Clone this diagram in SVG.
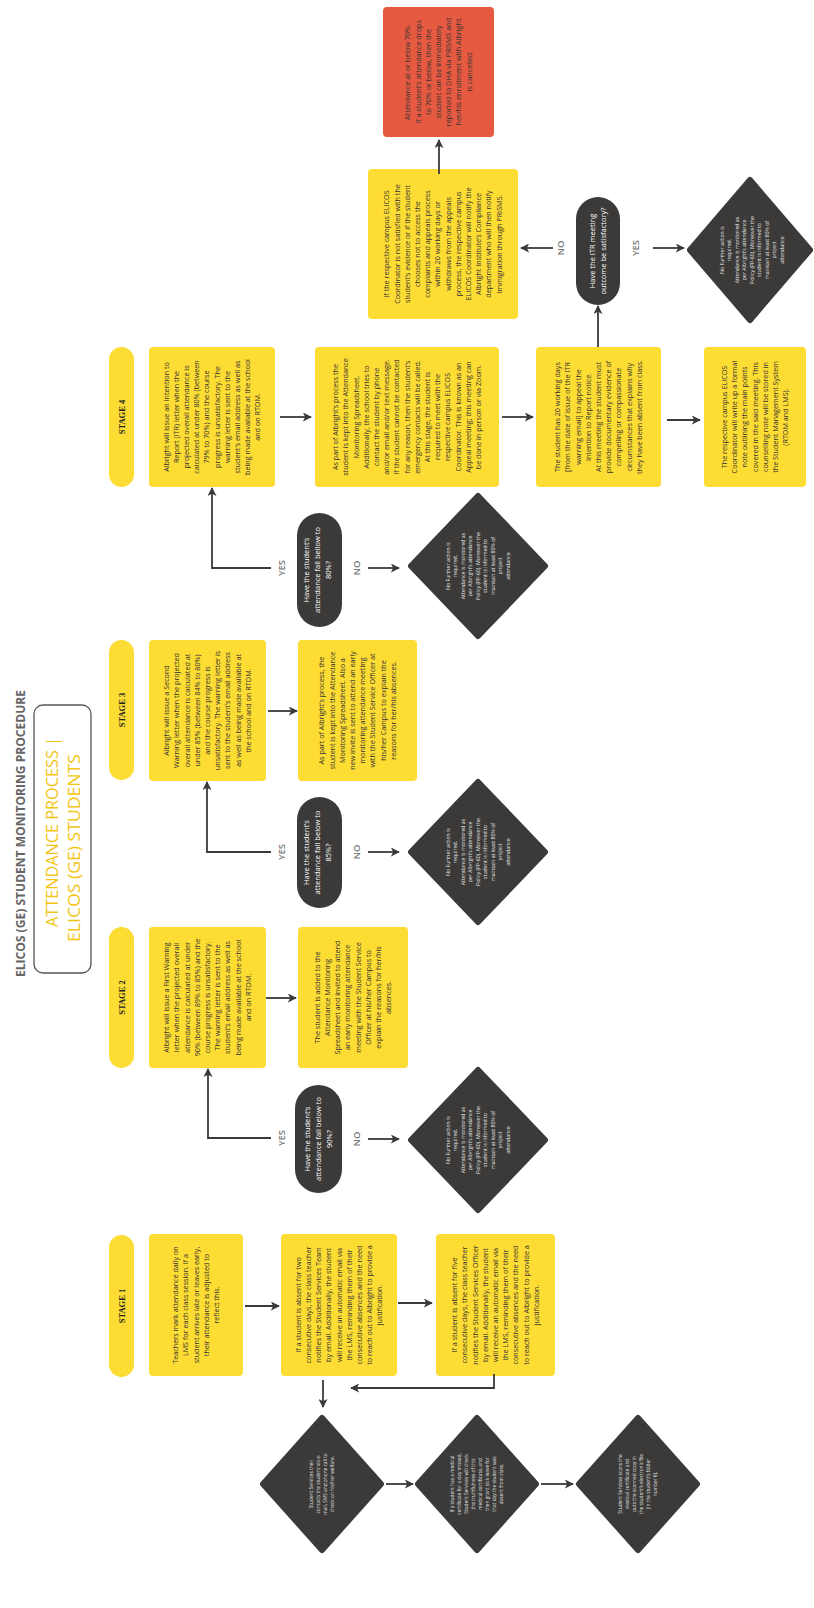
<svg xmlns="http://www.w3.org/2000/svg" width="814" height="1608" viewBox="0 0 814 1608">
<style>
.box{fill:#FDDC33}
.red{fill:#E55A41}
.pill{fill:#3C3A39}
.dk{fill:#3C3A39;stroke:#3C3A39;stroke-width:6;stroke-linejoin:round}
.t{font-family:"Open Sans","Liberation Sans",sans-serif;font-size:7.2px;fill:#333;text-anchor:middle}
.tw{font-family:"Open Sans","Liberation Sans",sans-serif;font-size:7.5px;fill:#fff;text-anchor:middle}
.td{font-family:"Open Sans","Liberation Sans",sans-serif;font-size:5.2px;fill:#e6e6e6;text-anchor:middle}
.ts{font-family:"Open Sans","Liberation Sans",sans-serif;font-size:4.8px;fill:#e6e6e6;text-anchor:middle}
.st{font-family:"Liberation Serif",serif;font-weight:bold;font-size:8.5px;fill:#222;text-anchor:middle}
.lbl{font-family:"Open Sans","Liberation Sans",sans-serif;font-weight:600;font-size:9.5px;fill:#777;text-anchor:middle}
.c{fill:none;stroke:#3a3a3a;stroke-width:1.8}
</style>
<defs>
<marker id="ah" viewBox="0 0 10 10" refX="9" refY="5" markerWidth="9" markerHeight="9" markerUnits="userSpaceOnUse" orient="auto"><path d="M0,0 L10,5 L0,10 L2.5,5 z" fill="#3a3a3a"/></marker>
</defs>
<rect width="814" height="1608" fill="#fff"/>
<g transform="translate(0,1608) rotate(-90)">

<g id="title">
<text x="774.5" y="25.4" font-family="'Open Sans','Liberation Sans',sans-serif" font-weight="bold" font-size="12.5" fill="#666" text-anchor="middle" textLength="287" lengthAdjust="spacingAndGlyphs">ELICOS (GE) STUDENT MONITORING PROCEDURE</text>
<rect x="635" y="34" width="268" height="57" rx="9" fill="#fff" stroke="#555" stroke-width="1.3"/>
<text x="776" y="58" font-family="'Open Sans','Liberation Sans',sans-serif" font-size="17" fill="#F3C414" text-anchor="middle" textLength="190" lengthAdjust="spacingAndGlyphs">ATTENDANCE PROCESS |</text>
<text x="760" y="80" font-family="'Open Sans','Liberation Sans',sans-serif" font-size="17" fill="#F3C414" text-anchor="middle" textLength="188" lengthAdjust="spacingAndGlyphs">ELICOS (GE) STUDENTS</text>
</g>

<g id="stage1-label"><rect x="231" y="109" width="142" height="25" rx="12.5" class="box"/><text class="st" x="302" y="124.5">STAGE 1</text></g>
<g id="stage2-label"><rect x="540" y="109" width="141" height="25" rx="12.5" class="box"/><text class="st" x="610.5" y="124.5">STAGE 2</text></g>
<g id="stage3-label"><rect x="828" y="109" width="140" height="25" rx="12.5" class="box"/><text class="st" x="898" y="124.5">STAGE 3</text></g>
<g id="stage4-label"><rect x="1121" y="109" width="140" height="25" rx="12.5" class="box"/><text class="st" x="1191" y="124.5">STAGE 4</text></g>

<g id="s1-teachers"><rect x="232" y="149" width="142" height="94" rx="4" class="box"/>
<text class="t" x="303" y="178.1"><tspan x="303">Teachers mark attendance daily on</tspan><tspan x="303" dy="10.2">LMS for each class session. If a</tspan><tspan x="303" dy="10.2">student arrives late or leaves early,</tspan><tspan x="303" dy="10.2">their attendance is adjusted to</tspan><tspan x="303" dy="10.2">reflect this.</tspan></text></g>

<g id="s1-two"><rect x="232" y="281" width="142" height="116" rx="4" class="box"/>
<text class="t" x="303" y="300.7"><tspan x="303">If a student is absent for two</tspan><tspan x="303" dy="10.2">consecutive days, the class teacher</tspan><tspan x="303" dy="10.2">notifies the Student Services Team</tspan><tspan x="303" dy="10.2">by email. Additionally, the student</tspan><tspan x="303" dy="10.2">will receive an automatic email via</tspan><tspan x="303" dy="10.2">the LMS, reminding them of their</tspan><tspan x="303" dy="10.2">consecutive absences and the need</tspan><tspan x="303" dy="10.2">to reach out to Albright to provide a</tspan><tspan x="303" dy="10.2">justification.</tspan></text></g>

<g id="s1-five"><rect x="232" y="436" width="142" height="119" rx="4" class="box"/>
<text class="t" x="303" y="457.2"><tspan x="303">If a student is absent for five</tspan><tspan x="303" dy="10.2">consecutive days, the class teacher</tspan><tspan x="303" dy="10.2">notifies the Student Services Officer</tspan><tspan x="303" dy="10.2">by email. Additionally, the student</tspan><tspan x="303" dy="10.2">will receive an automatic email via</tspan><tspan x="303" dy="10.2">the LMS, reminding them of their</tspan><tspan x="303" dy="10.2">consecutive absences and the need</tspan><tspan x="303" dy="10.2">to reach out to Albright to provide a</tspan><tspan x="303" dy="10.2">justification.</tspan></text></g>

<g id="s1-d1"><polygon class="dk" points="58,322 124,263 190,322 124,381"/>
<text class="ts" x="124" y="313.2"><tspan x="124">Student Services then</tspan><tspan x="124" dy="7">contacts the student via e-</tspan><tspan x="124" dy="7">mail, SMS and phone call to</tspan><tspan x="124" dy="7">check on his/her welfare.</tspan></text></g>

<g id="s1-d2"><polygon class="dk" points="58,477 124,418 190,477 124,536"/>
<text class="ts" x="124" y="454.2"><tspan x="124">If a student has a medical</tspan><tspan x="124" dy="7">certificate for a day missed,</tspan><tspan x="124" dy="7">Student Services will check</tspan><tspan x="124" dy="7">the truthfulness of this</tspan><tspan x="124" dy="7">medical certificate, and</tspan><tspan x="124" dy="7">then grant sick leave for</tspan><tspan x="124" dy="7">that day the student was</tspan><tspan x="124" dy="7">absent from class.</tspan></text></g>

<g id="s1-d3"><polygon class="dk" points="58,638 124,579 190,638 124,697"/>
<text class="ts" x="124" y="622.2"><tspan x="124">Student Services scans the</tspan><tspan x="124" dy="7">medical certificate and</tspan><tspan x="124" dy="7">puts the scanned copy in</tspan><tspan x="124" dy="7">the student’s electronic file</tspan><tspan x="124" dy="7">(in the student’s folder</tspan><tspan x="124" dy="7">number 6).</tspan></text></g>

<g id="s2-warning"><rect x="540" y="149" width="141" height="117" rx="4" class="box"/>
<text class="t" x="610.5" y="169.2"><tspan x="610.5">Albright will issue a First Warning</tspan><tspan x="610.5" dy="10.2">letter when the projected overall</tspan><tspan x="610.5" dy="10.2">attendance is calculated at under</tspan><tspan x="610.5" dy="10.2">90% (between 89% to 85%) and the</tspan><tspan x="610.5" dy="10.2">course progress is unsatisfactory.</tspan><tspan x="610.5" dy="10.2">The warning letter is sent to the</tspan><tspan x="610.5" dy="10.2">student’s email address as well as</tspan><tspan x="610.5" dy="10.2">being made available at the school</tspan><tspan x="610.5" dy="10.2">and on RTOM.</tspan></text></g>

<g id="s2-added"><rect x="540" y="298" width="141" height="110" rx="4" class="box"/>
<text class="t" x="610.5" y="319.8"><tspan x="610.5">The student is added to the</tspan><tspan x="610.5" dy="10.2">Attendance Monitoring</tspan><tspan x="610.5" dy="10.2">Spreadsheet and invited to attend</tspan><tspan x="610.5" dy="10.2">an early monitoring attendance</tspan><tspan x="610.5" dy="10.2">meeting with the Student Service</tspan><tspan x="610.5" dy="10.2">Officer at his/her Campus to</tspan><tspan x="610.5" dy="10.2">explain the reasons for her/his</tspan><tspan x="610.5" dy="10.2">absences.</tspan></text></g>

<g id="s2-question"><rect x="415" y="295" width="108" height="47" rx="23.5" class="pill"/>
<text class="tw" x="469" y="310.1"><tspan x="469">Have the student’s</tspan><tspan x="469" dy="11">attendance fall below to</tspan><tspan x="469" dy="11">90%?</tspan></text></g>

<g id="s2-nofurther"><polygon class="dk" points="398,478 468,411 538,478 468,545"/>
<text class="td" x="468" y="449.8"><tspan x="468">No Further action is</tspan><tspan x="468" dy="7.5">required.</tspan><tspan x="468" dy="7.5">Attendance is monitored as</tspan><tspan x="468" dy="7.5">per Albright’s attendance</tspan><tspan x="468" dy="7.5">Policy (PP-60). Moreover the</tspan><tspan x="468" dy="7.5">student is informed to</tspan><tspan x="468" dy="7.5">maintain at least 80% of</tspan><tspan x="468" dy="7.5">project</tspan><tspan x="468" dy="7.5">attendance</tspan></text></g>

<g id="s3-warning"><rect x="827" y="149" width="141" height="117" rx="4" class="box"/>
<text class="t" x="897.5" y="169.2"><tspan x="897.5">Albright will issue a Second</tspan><tspan x="897.5" dy="10.2">Warning letter when the projected</tspan><tspan x="897.5" dy="10.2">overall attendance is calculated at</tspan><tspan x="897.5" dy="10.2">under 85% (between 84% to 80%)</tspan><tspan x="897.5" dy="10.2">and the course progress is</tspan><tspan x="897.5" dy="10.2">unsatisfactory. The warning letter is</tspan><tspan x="897.5" dy="10.2">sent to the student’s email address</tspan><tspan x="897.5" dy="10.2">as well as being made available at</tspan><tspan x="897.5" dy="10.2">the school and on RTOM.</tspan></text></g>

<g id="s3-process"><rect x="827" y="298" width="141" height="119" rx="4" class="box"/>
<text class="t" x="897.5" y="324.3"><tspan x="897.5">As part of Albright’s process, the</tspan><tspan x="897.5" dy="10.2">student is kept into the Attendance</tspan><tspan x="897.5" dy="10.2">Monitoring Spreadsheet. Also a</tspan><tspan x="897.5" dy="10.2">new invite is sent to attend an early</tspan><tspan x="897.5" dy="10.2">monitoring attendance meeting</tspan><tspan x="897.5" dy="10.2">with the Student Service Officer at</tspan><tspan x="897.5" dy="10.2">his/her Campus to explain the</tspan><tspan x="897.5" dy="10.2">reasons for her/his absences.</tspan></text></g>

<g id="s3-question"><rect x="700" y="297" width="111" height="45" rx="22.5" class="pill"/>
<text class="tw" x="755.5" y="308.6"><tspan x="755.5">Have the student’s</tspan><tspan x="755.5" dy="11">attendance fall below to</tspan><tspan x="755.5" dy="11">85%?</tspan></text></g>

<g id="s3-nofurther"><polygon class="dk" points="686,478 756,411 826,478 756,545"/>
<text class="td" x="756" y="449.8"><tspan x="756">No Further action is</tspan><tspan x="756" dy="7.5">required.</tspan><tspan x="756" dy="7.5">Attendance is monitored as</tspan><tspan x="756" dy="7.5">per Albright’s attendance</tspan><tspan x="756" dy="7.5">Policy (PP-60). Moreover the</tspan><tspan x="756" dy="7.5">student is informed to</tspan><tspan x="756" dy="7.5">maintain at least 80% of</tspan><tspan x="756" dy="7.5">project</tspan><tspan x="756" dy="7.5">attendance</tspan></text></g>

<g id="s4-itr"><rect x="1121" y="149" width="140" height="126" rx="4" class="box"/>
<text class="t" x="1191" y="168.6"><tspan x="1191">Albright will issue an Intention to</tspan><tspan x="1191" dy="10.2">Report (ITR) letter when the</tspan><tspan x="1191" dy="10.2">projected overall attendance is</tspan><tspan x="1191" dy="10.2">calculated at under 80% (between</tspan><tspan x="1191" dy="10.2">79% to 70%) and the course</tspan><tspan x="1191" dy="10.2">progress is unsatisfactory. The</tspan><tspan x="1191" dy="10.2">warning letter is sent to the</tspan><tspan x="1191" dy="10.2">student’s email address as well as</tspan><tspan x="1191" dy="10.2">being made available at the school</tspan><tspan x="1191" dy="10.2">and on RTOM.</tspan></text></g>

<g id="s4-process"><rect x="1121" y="315" width="140" height="184" rx="4" class="box"/>
<text class="t" x="1191" y="338.1"><tspan x="1191">As part of Albright’s process the</tspan><tspan x="1191" dy="10.2">student is kept into the Attendance</tspan><tspan x="1191" dy="10.2">Monitoring Spreadsheet.</tspan><tspan x="1191" dy="10.2">Additionally, the school tries to</tspan><tspan x="1191" dy="10.2">contact the student by phone</tspan><tspan x="1191" dy="10.2">and/or email and/or text message.</tspan><tspan x="1191" dy="10.2">If the student cannot be contacted</tspan><tspan x="1191" dy="10.2">for any reason, then the student’s</tspan><tspan x="1191" dy="10.2">emergency contacts will be called.</tspan><tspan x="1191" dy="10.2">At this stage, the student is</tspan><tspan x="1191" dy="10.2">required to meet with the</tspan><tspan x="1191" dy="10.2">respective campus ELICOS</tspan><tspan x="1191" dy="10.2">Coordinator. This is known as an</tspan><tspan x="1191" dy="10.2">Appeal meeting; this meeting can</tspan><tspan x="1191" dy="10.2">be done in person or via Zoom.</tspan></text></g>

<g id="s4-question"><rect x="981" y="297" width="114" height="45" rx="22.5" class="pill"/>
<text class="tw" x="1038" y="308.6"><tspan x="1038">Have the student’s</tspan><tspan x="1038" dy="11">attendance fall bellow to</tspan><tspan x="1038" dy="11">80%?</tspan></text></g>

<g id="s4-nofurther"><polygon class="dk" points="972,478 1042,411 1112,478 1042,545"/>
<text class="td" x="1042" y="449.8"><tspan x="1042">No Further action is</tspan><tspan x="1042" dy="7.5">required.</tspan><tspan x="1042" dy="7.5">Attendance is monitored as</tspan><tspan x="1042" dy="7.5">per Albright’s attendance</tspan><tspan x="1042" dy="7.5">Policy (PP-60). Moreover the</tspan><tspan x="1042" dy="7.5">student is informed to</tspan><tspan x="1042" dy="7.5">maintain at least 80% of</tspan><tspan x="1042" dy="7.5">project</tspan><tspan x="1042" dy="7.5">attendance</tspan></text></g>

<g id="s4-appeal"><rect x="1121" y="536" width="140" height="125" rx="4" class="box"/>
<text class="t" x="1191" y="560.2"><tspan x="1191">The student has 20 working days</tspan><tspan x="1191" dy="10.2">[from the date of issue of the ITR</tspan><tspan x="1191" dy="10.2">warning email] to appeal the</tspan><tspan x="1191" dy="10.2">Intention to Report notice.</tspan><tspan x="1191" dy="10.2">At this meeting the student must</tspan><tspan x="1191" dy="10.2">provide documentary evidence of</tspan><tspan x="1191" dy="10.2">compelling or compassionate</tspan><tspan x="1191" dy="10.2">circumstances that explains why</tspan><tspan x="1191" dy="10.2">they have been absent from class.</tspan></text></g>

<g id="s4-note"><rect x="1121" y="704" width="140" height="102" rx="4" class="box"/>
<text class="t" x="1191" y="726.9"><tspan x="1191">The respective campus ELICOS</tspan><tspan x="1191" dy="10.2">Coordinator will write up a formal</tspan><tspan x="1191" dy="10.2">note outlining the main points</tspan><tspan x="1191" dy="10.2">covered in the said meeting. This</tspan><tspan x="1191" dy="10.2">counselling note will be stored in</tspan><tspan x="1191" dy="10.2">the Student Management System</tspan><tspan x="1191" dy="10.2">(RTOM and LMS).</tspan></text></g>

<g id="itr-question"><rect x="1303" y="576" width="108" height="44" rx="22" class="pill"/>
<text class="tw" x="1357" y="595.1"><tspan x="1357">Have the ITR meeting</tspan><tspan x="1357" dy="11">outcome be satisfactory?</tspan></text></g>

<g id="itr-notsatisfied"><rect x="1289" y="368" width="150" height="150" rx="4" class="box"/>
<text class="t" x="1364" y="389.4"><tspan x="1364">If the respective campus ELICOS</tspan><tspan x="1364" dy="10.2">Coordinator is not satisfied with the</tspan><tspan x="1364" dy="10.2">student’s evidence or if the student</tspan><tspan x="1364" dy="10.2">chooses not to access the</tspan><tspan x="1364" dy="10.2">complaints and appeals process</tspan><tspan x="1364" dy="10.2">within 20 working days or</tspan><tspan x="1364" dy="10.2">withdraws from the appeals</tspan><tspan x="1364" dy="10.2">process, the respective campus</tspan><tspan x="1364" dy="10.2">ELICOS Coordinator will notify the</tspan><tspan x="1364" dy="10.2">Albright Institute’s Compliance</tspan><tspan x="1364" dy="10.2">department who will then notify</tspan><tspan x="1364" dy="10.2">Immigration through PRISMS.</tspan></text></g>

<g id="cancelled"><rect x="1471" y="383" width="130" height="111" rx="4" class="red"/>
<text class="t" x="1536" y="410.4"><tspan x="1536">Attendance at or below 70%.</tspan><tspan x="1536" dy="10.2">If a student’s attendance drops</tspan><tspan x="1536" dy="10.2">to 70% or below, then the</tspan><tspan x="1536" dy="10.2">student can be immediately</tspan><tspan x="1536" dy="10.2">reported to DHA via PRISMS and</tspan><tspan x="1536" dy="10.2">her/his enrollment with Albright</tspan><tspan x="1536" dy="10.2">is cancelled</tspan></text></g>

<g id="itr-nofurther"><polygon class="dk" points="1288,750 1358,690 1428,750 1358,810"/>
<text class="td" x="1358" y="723.8"><tspan x="1358">No Further action is</tspan><tspan x="1358" dy="7.5">required.</tspan><tspan x="1358" dy="7.5">Attendance is monitored as</tspan><tspan x="1358" dy="7.5">per Albright’s attendance</tspan><tspan x="1358" dy="7.5">Policy (PP-60). Moreover the</tspan><tspan x="1358" dy="7.5">student is informed to</tspan><tspan x="1358" dy="7.5">maintain at least 80% of</tspan><tspan x="1358" dy="7.5">project</tspan><tspan x="1358" dy="7.5">attendance</tspan></text></g>

<g id="labels">
<text class="lbl" x="470" y="285.4">YES</text><text class="lbl" x="469" y="360.4">NO</text>
<text class="lbl" x="756" y="285.4">YES</text><text class="lbl" x="756" y="360.4">NO</text>
<text class="lbl" x="1040" y="285.4">YES</text><text class="lbl" x="1040" y="360.4">NO</text>
<text class="lbl" x="1360" y="564.4">NO</text><text class="lbl" x="1360" y="639.4">YES</text>
</g>

<g id="connectors" marker-end="url(#ah)">
<path class="c" d="M302,245 L302,279"/>
<path class="c" d="M305,398 L305,432"/>
<path class="c" d="M234,494 L220,494 L220,351"/>
<path class="c" d="M228,323 L201,323"/>
<path class="c" d="M124,386 L124,413"/>
<path class="c" d="M124,541 L124,573"/>
<path class="c" d="M610,266 L610,296"/>
<path class="c" d="M470,271 L470,208 L539,208"/>
<path class="c" d="M469,368 L469,399"/>
<path class="c" d="M897,268 L897,297"/>
<path class="c" d="M756,271 L756,207 L826,207"/>
<path class="c" d="M756,368 L756,399"/>
<path class="c" d="M1191,280 L1191,311"/>
<path class="c" d="M1040,271 L1040,212 L1120,212"/>
<path class="c" d="M1040,368 L1040,399"/>
<path class="c" d="M1191,502 L1191,533"/>
<path class="c" d="M1188,667 L1188,700"/>
<path class="c" d="M1261,598 L1302,598"/>
<path class="c" d="M1360,553 L1360,521"/>
<path class="c" d="M1434,439 L1468,439"/>
<path class="c" d="M1360,653 L1360,684"/>
</g>
</g>
</svg>
